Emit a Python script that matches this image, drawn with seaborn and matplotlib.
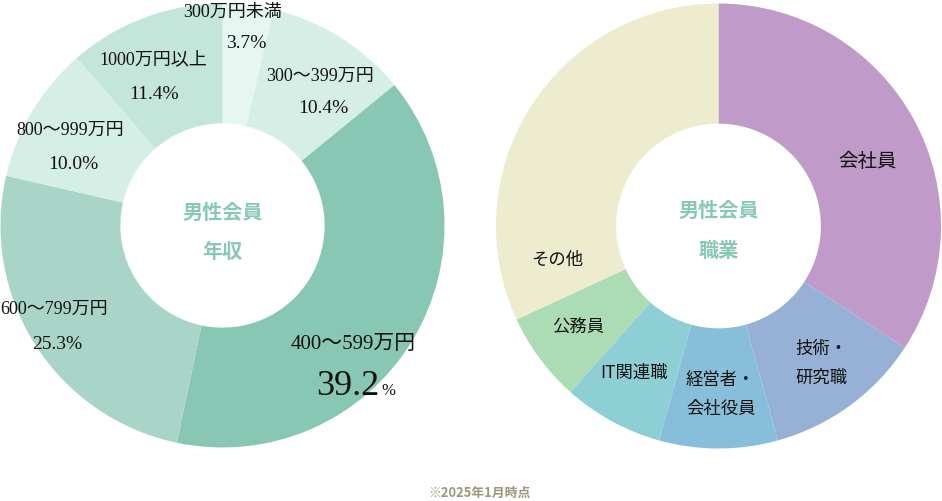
import matplotlib
matplotlib.use("Agg")
import matplotlib.pyplot as plt
import seaborn as sns

# ---- data ----
income_labels = ["300万円未満", "300～399万円", "400～599万円", "600～799万円", "800～999万円", "1000万円以上"]
income_values = [3.7, 10.4, 39.2, 25.3, 10.0, 11.4]
income_colors = ["#e6f7f1", "#d6efe6", "#88c7b3", "#a8d5c8", "#d6efe6", "#c4e6da"]

job_labels = ["会社員", "技術・\n研究職", "経営者・\n会社役員", "IT関連職", "公務員", "その他"]
job_values = [34.2, 11.5, 8.6, 7.3, 6.5, 31.9]
job_colors = ["#c09ac8", "#96b0d6", "#87bfda", "#8ecfd6", "#acdcb4", "#eeecce"]

center_left = ["男性会員", "年収"]
center_right = ["男性会員", "職業"]
footnote = "※2025年1月時点"

sns.set_theme(style="white")
plt.rcParams["font.family"] = ["Noto Sans CJK JP", "DejaVu Sans"]
SERIF = ["Liberation Serif", "Noto Sans CJK JP"]
SANS = ["Noto Sans CJK JP", "DejaVu Sans"]
GREEN = "#88c9b4"

W, H = 942, 501
fig = plt.figure(figsize=(W / 100, H / 100), dpi=100)


def donut_axes(cx, cy, r):
    ax = fig.add_axes([(cx - r) / W, (H - cy - r) / H, 2 * r / W, 2 * r / H])
    return ax


# left donut
axL = donut_axes(222.5, 225.5, 222)
axL.pie(income_values, colors=sns.color_palette(income_colors), startangle=90,
        counterclock=False, radius=1.0,
        wedgeprops=dict(width=0.54, linewidth=0))
axL.set_xlim(-1, 1)
axL.set_ylim(-1, 1)
axL.axis("off")

tkw = dict(family=SERIF, color="#111111", ha="center", va="center", fontsize=13)
pkw = {**tkw, "fontsize": 14}
axL.text(0.047, 0.962, income_labels[0], **tkw)
axL.text(0.106, 0.818, f"{income_values[0]}%", **pkw)
axL.text(0.439, 0.673, income_labels[1], **tkw)
axL.text(0.453, 0.529, f"{income_values[1]}%", **pkw)
axL.text(0.588, -0.534, income_labels[2], **{**tkw, "fontsize": 15})
axL.text(0.705, -0.764, f"{income_values[2]}", family=SERIF, color="#111111",
         ha="right", va="baseline", fontsize=26)
axL.text(0.715, -0.764, "%", family=SERIF, color="#111111",
         ha="left", va="baseline", fontsize=12)
axL.text(-0.759, -0.376, income_labels[3], **tkw)
axL.text(-0.746, -0.534, f"{income_values[3]}%", **pkw)
axL.text(-0.687, 0.430, income_labels[4], **tkw)
axL.text(-0.673, 0.273, f"{income_values[4]:.1f}%", **pkw)
axL.text(-0.313, 0.745, income_labels[5], **tkw)
axL.text(-0.309, 0.588, f"{income_values[5]}%", **pkw)

ckw = dict(family=SANS, color=GREEN, ha="center", va="center", fontsize=14.5, fontweight="bold")
axL.text(0, 0.061, center_left[0], **ckw)
axL.text(0, -0.115, center_left[1], **ckw)

# right donut
axR = donut_axes(718.5, 226, 222.5)
axR.pie(job_values, colors=sns.color_palette(job_colors), startangle=90,
        counterclock=False, radius=1.0,
        wedgeprops=dict(width=0.54, linewidth=0))
axR.set_xlim(-1, 1)
axR.set_ylim(-1, 1)
axR.axis("off")

rkw = dict(family=SANS, color="#111111", va="center", fontsize=12.5)
axR.text(0.672, 0.288, job_labels[0], ha="center", **{**rkw, "fontsize": 14})
axR.text(0.344, -0.618, job_labels[1], ha="left", linespacing=1.75, **rkw)
axR.text(-0.146, -0.757, job_labels[2], ha="left", linespacing=1.75, **rkw)
axR.text(-0.378, -0.661, job_labels[3], ha="center", **rkw)
axR.text(-0.629, -0.458, job_labels[4], ha="center", **rkw)
axR.text(-0.726, -0.153, job_labels[5], ha="center", **rkw)

axR.text(0, 0.072, center_right[0], **ckw)
axR.text(0, -0.112, center_right[1], **ckw)

fig.text(479 / W, 1 - 493 / H, footnote, family=SANS, color="#9a9878",
         ha="center", va="center", fontsize=9.3, fontweight="bold")

fig.savefig("out.png", dpi=100)
